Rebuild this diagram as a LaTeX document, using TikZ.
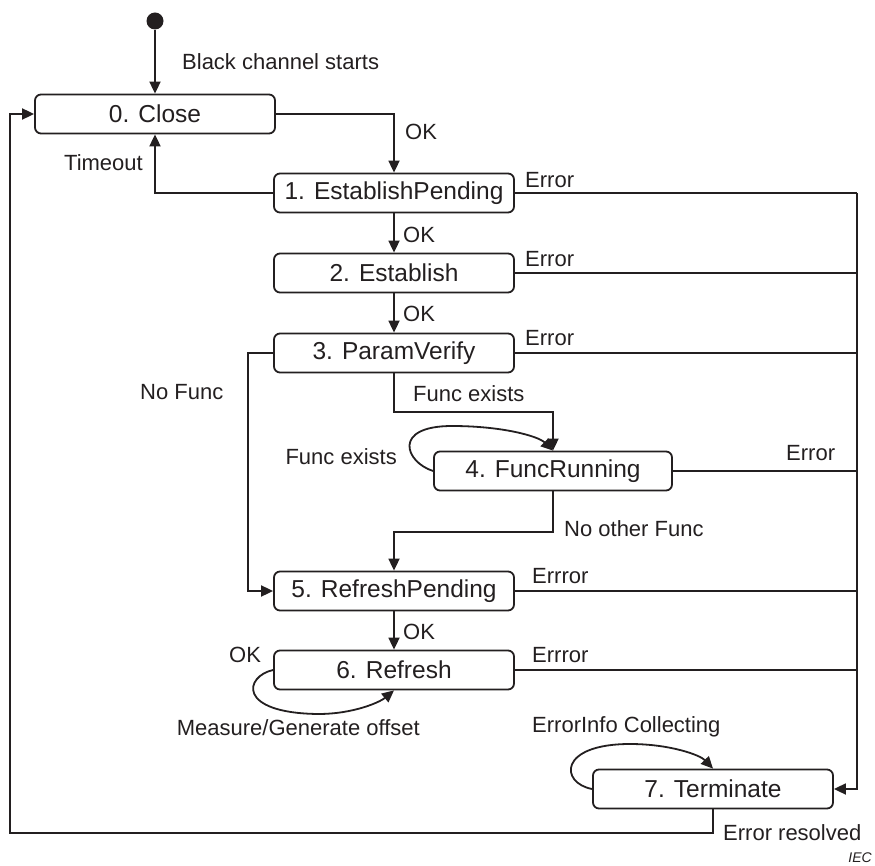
\documentclass[tikz,border=0pt]{standalone}
\usepackage{fontspec}
\setmainfont{Liberation Sans}
\usetikzlibrary{arrows.meta}
\definecolor{ink}{HTML}{231F20}
\tikzset{
  state/.style={draw=ink, line width=1.8pt, rounded corners=6pt, minimum width=240pt,
    minimum height=39pt, inner sep=0pt, text=ink, font=\fontsize{24.5}{28}\selectfont},
  lbl/.style={inner sep=0pt, text=ink, font=\fontsize{22}{26}\selectfont},
  wire/.style={draw=ink, line width=1.8pt},
  arr/.style={wire, -{Triangle[length=12pt,width=11pt]}},
}
\begin{document}
\begin{tikzpicture}[x=1pt, y=-1pt]
\useasboundingbox (0,0) rectangle (875,866);

% states
\node[circle, fill=ink, minimum size=17pt, inner sep=0pt] (init) at (155,21) {};
\node[state] (close) at (155,114) {0. Close};
\node[state] (ep)    at (394,193) {1. EstablishPending};
\node[state] (est)   at (394,273) {2. Establish};
\node[state] (pv)    at (394,353) {3. ParamVerify};
\node[state, minimum width=238pt] (fr) at (553,471) {4. FuncRunning};
\node[state] (rp)    at (394,591) {5. RefreshPending};
\node[state] (ref)   at (394,670) {6. Refresh};
\node[state] (term)  at (713,789) {7. Terminate};

% bend points
\coordinate (fjoint) at (394,412);
\coordinate (njoint) at (553,532);
\coordinate (nf) at (248,353);
\coordinate (bustop) at (857,193);
\coordinate (ret) at (10,833);

% main flow
\draw[arr] (init) -- (close);
\draw[arr] (close.east) -| (ep.north);
\draw[arr] (ep.west) -| (close.south);
\draw[arr] (ep) -- (est);
\draw[arr] (est) -- (pv);
\draw[arr] (pv.south) |- (fjoint -| fr.north) -- (fr.north);
\draw[arr] (fr.south) -- (njoint) -| (rp.north);
\draw[arr] (pv.west) -- (nf) |- (rp.west);
\draw[arr] (rp) -- (ref);

% self loops
\draw[arr] (fr.west) .. controls (405,462) and (392,426) .. (452,426)
  .. controls (502,426) and (538,436) .. (fr.north);
\draw[arr] (ref.west) .. controls (245,676) and (236,713) .. (318,714)
  .. controls (354,714) and (380,702) .. (ref.south);
\draw[arr] (term.west) .. controls (560,783) and (558,744) .. (630,744)
  .. controls (670,744) and (700,755) .. (term.north);

% error bus
\draw[wire] (ep.east) -- (bustop);
\draw[wire] (est.east) -- (est.east -| bustop);
\draw[wire] (pv.east) -- (pv.east -| bustop);
\draw[wire] (fr.east) -- (fr.east -| bustop);
\draw[wire] (rp.east) -- (rp.east -| bustop);
\draw[wire] (ref.east) -- (ref.east -| bustop);
\draw[arr] (bustop) |- (term.east);

% return to Close
\draw[arr] (term.south) |- (ret) |- (close.west);

% labels
\node[lbl, anchor=west] (l0) at (182,62) {Black channel starts};
\node[lbl, anchor=west] (l1) at (405,132) {OK};
\node[lbl, anchor=east] (l2) at (143,163) {Timeout};
\node[lbl, anchor=west] (l3) at (525,180) {Error};
\node[lbl, anchor=west] (l4) at (403,235) {OK};
\node[lbl, anchor=west] (l5) at (525,259) {Error};
\node[lbl, anchor=west] (l6) at (403,314) {OK};
\node[lbl, anchor=west] (l7) at (525,338) {Error};
\node[lbl, anchor=west] (l8) at (140,392) {No Func};
\node[lbl, anchor=west] (l9) at (413,394) {Func exists};
\node[lbl, anchor=east] (l10) at (397,457) {Func exists};
\node[lbl, anchor=west] (l11) at (786,453) {Error};
\node[lbl, anchor=west] (l12) at (564,529) {No other Func};
\node[lbl, anchor=west] (l13) at (532,576) {Errror};
\node[lbl, anchor=west] (l14) at (403,632) {OK};
\node[lbl, anchor=west] (l15) at (532,655) {Errror};
\node[lbl, anchor=west] (l16) at (229,655) {OK};
\node[lbl, anchor=east] (l17) at (420,728) {Measure/Generate offset};
\node[lbl, anchor=west] (l18) at (532,727) {ErrorInfo Collecting};
\node[lbl, anchor=west] (l19) at (723,833) {Error resolved};
\node[inner sep=0pt, text=ink, anchor=east, font=\fontsize{14}{16}\selectfont\itshape] (iec) at (872,858) {IEC};
\end{tikzpicture}
\end{document}
